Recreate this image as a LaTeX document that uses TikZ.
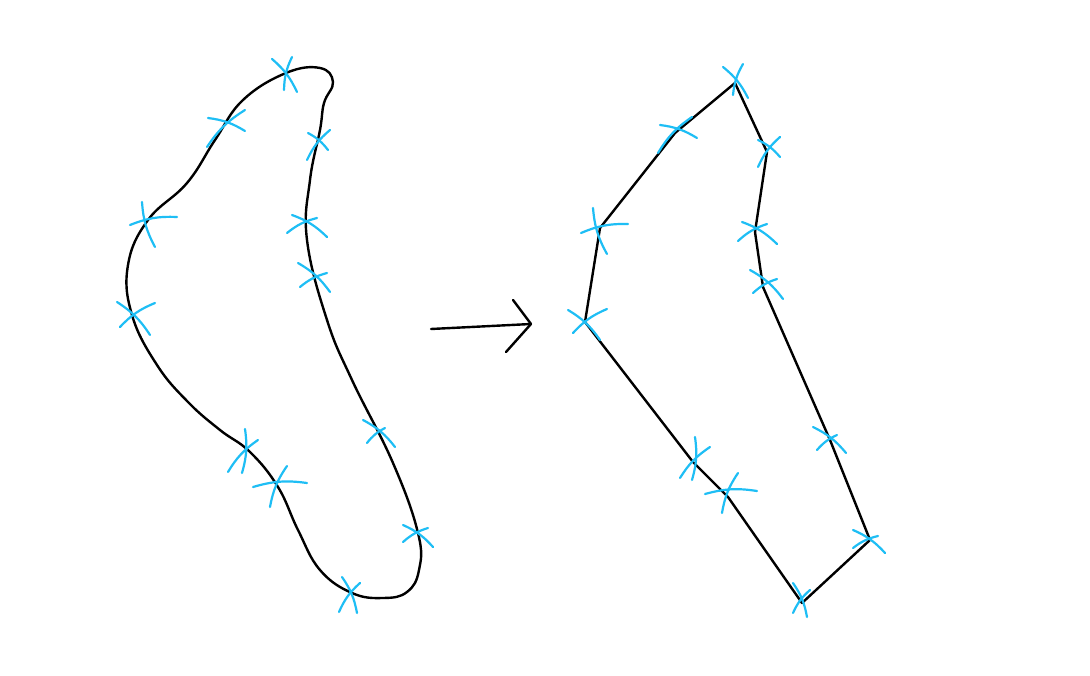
\documentclass[tikz,border=0pt]{standalone}
\definecolor{markcyan}{RGB}{30,190,245}
\tikzset{
  outline/.style={draw=black, line width=2.4pt, line cap=round, line join=round},
  tickstroke/.style={draw=markcyan, line width=2.2pt, line cap=round},
}
\newcommand{\crossmark}[8]{%
  \draw[tickstroke] (#1,#2) to[bend left=12] (#3,#4);
  \draw[tickstroke] (#5,#6) to[bend right=12] (#7,#8);
}
\begin{document}
\begin{tikzpicture}[x=1pt,y=-1pt]
\useasboundingbox[fill=white] (0,0) rectangle (1090,676);
% left freeform shape
\draw[outline] plot[smooth cycle, tension=0.7] coordinates {
 (286,73) (243,100) (215,140) (187,183) (148,220) (128,265) (132,315)
 (157,365) (188,402) (220,430) (250,452) (278,487) (298,530) (320,570) (352,593)
 (383,598) (407,592) (419,570) (418,533) (393,463) (352,380) (327,320) (307,240)
 (310,180) (320,130) (324,103) (333,82) (320,68)};
% arrow
\coordinate (as) at (431,329);
\coordinate (ae) at (531,324);
\coordinate (au) at (513,300);
\coordinate (ad) at (506,352);
\draw[outline] (as) -- (ae);
\draw[outline] (au) -- (ae) -- (ad);
% right polygon
\draw[outline] (735,83) -- (675,133) -- (600,228) -- (585,322) -- (693,462) -- (728,497)
 -- (802,603) -- (870,540) -- (830,440) -- (763,287) -- (755,232) -- (767,152) -- cycle;
% left marks
\crossmark{272}{59}{297}{92}{292}{57}{284}{90}
\crossmark{208}{118}{245}{131}{245}{110}{207}{147}
\crossmark{130}{225}{177}{217}{142}{202}{155}{247}
\crossmark{308}{133}{328}{150}{330}{130}{307}{160}
\crossmark{292}{215}{327}{237}{317}{218}{287}{233}
\crossmark{298}{263}{330}{292}{327}{273}{300}{287}
\crossmark{117}{302}{150}{335}{155}{303}{120}{327}
\crossmark{245}{429}{242}{473}{258}{440}{228}{472}
\crossmark{253}{487}{307}{483}{287}{466}{270}{507}
\crossmark{363}{420}{395}{447}{385}{428}{367}{443}
\crossmark{403}{525}{433}{547}{428}{528}{403}{542}
\crossmark{342}{577}{357}{613}{360}{583}{339}{612}
% right marks
\crossmark{723}{67}{748}{98}{743}{64}{733}{95}
\crossmark{660}{125}{697}{138}{692}{117}{658}{153}
\crossmark{581}{233}{628}{224}{593}{208}{607}{254}
\crossmark{758}{140}{780}{157}{780}{137}{758}{167}
\crossmark{742}{222}{777}{244}{767}{224}{738}{241}
\crossmark{750}{270}{783}{299}{777}{279}{753}{293}
\crossmark{568}{310}{600}{340}{607}{309}{573}{333}
\crossmark{695}{437}{692}{480}{710}{447}{680}{478}
\crossmark{705}{494}{757}{491}{738}{473}{722}{513}
\crossmark{813}{427}{846}{453}{837}{435}{817}{450}
\crossmark{853}{530}{885}{553}{878}{536}{853}{548}
\crossmark{793}{583}{807}{617}{810}{590}{793}{613}
\end{tikzpicture}
\end{document}
